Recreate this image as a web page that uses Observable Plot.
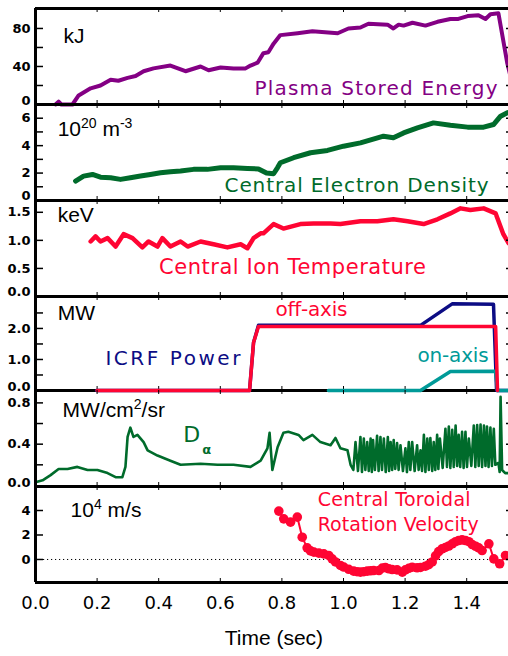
<!DOCTYPE html>
<html><head><meta charset="utf-8">
<script src="https://cdn.jsdelivr.net/npm/d3@7"></script>
<script src="https://cdn.jsdelivr.net/npm/@observablehq/plot@0.6"></script>
<style>
body{margin:0;background:#fff;}
#chart{position:relative;width:508px;height:656px;overflow:hidden;background:#fff;}
#chart svg{position:absolute;left:0;max-width:none !important;}
</style></head><body><div id="chart"></div>
<script>
// ---------- data (time in s, value) ----------
const energy = [[0.065,0],[0.075,3],[0.084,0],[0.12,0],[0.14,9.5],[0.179,17],[0.211,20],[0.244,26],[0.269,25],[0.299,28],[0.325,30],[0.351,35],[0.383,38],[0.438,41],[0.487,35],[0.536,40],[0.562,36],[0.601,39],[0.643,38],[0.682,38],[0.698,41],[0.721,44],[0.74,54],[0.756,55],[0.773,64],[0.795,73],[0.851,75],[0.899,77],[0.981,75],[1.016,80],[1.055,81],[1.081,85],[1.143,84],[1.162,80],[1.179,84],[1.195,83],[1.224,86],[1.266,83],[1.305,87],[1.347,90],[1.373,90],[1.403,93],[1.438,94],[1.461,90],[1.477,95],[1.503,96],[1.532,43],[1.542,30]];
const density = [[0.13,1.42],[0.156,1.78],[0.185,1.9],[0.211,1.7],[0.244,1.66],[0.276,1.54],[0.308,1.66],[0.341,1.78],[0.373,1.9],[0.406,2.02],[0.438,2.1],[0.471,2.15],[0.513,2.27],[0.558,2.27],[0.601,2.39],[0.643,2.39],[0.688,2.34],[0.724,2.3],[0.75,2.0],[0.773,1.95],[0.786,2.4],[0.795,2.75],[0.838,3.12],[0.893,3.48],[0.948,3.65],[1.0,3.96],[1.055,4.2],[1.13,4.69],[1.162,4.57],[1.195,4.93],[1.24,5.3],[1.292,5.66],[1.347,5.49],[1.403,5.35],[1.455,5.35],[1.487,5.54],[1.51,6.15],[1.532,6.4]];
const ionTemp = [[0.179,0.98],[0.195,1.07],[0.211,0.98],[0.234,1.04],[0.26,0.89],[0.286,1.11],[0.315,1.04],[0.347,0.875],[0.367,0.98],[0.396,0.89],[0.412,1.04],[0.438,0.89],[0.471,0.98],[0.494,0.89],[0.536,0.98],[0.578,0.93],[0.623,0.875],[0.666,0.93],[0.688,0.86],[0.708,1.04],[0.731,1.125],[0.74,1.125],[0.773,1.29],[0.805,1.21],[0.86,1.29],[0.903,1.3],[0.958,1.3],[0.99,1.29],[1.055,1.34],[1.11,1.34],[1.162,1.375],[1.208,1.34],[1.26,1.29],[1.305,1.375],[1.347,1.48],[1.38,1.57],[1.412,1.54],[1.455,1.57],[1.494,1.48],[1.519,1.11],[1.536,0.95]];
const icrfTotal = [[0.198,0],[0.695,0],[0.708,1.55],[0.724,2.1],[1.25,2.1],[1.354,2.8],[1.487,2.78],[1.497,0],[1.55,0]];
const icrfOffAxis = [[0.2,0],[0.695,0],[0.708,1.55],[0.724,2.06],[1.494,2.06],[1.5,0]];
const icrfOnAxis = [[0.951,0],[1.25,0],[1.347,0.61],[1.494,0.62],[1.5,0],[1.55,0]];
const dalpha = [[0,0.03],[0.023,0.05],[0.049,0.1],[0.075,0.16],[0.104,0.16],[0.136,0.18],[0.169,0.15],[0.201,0.15],[0.234,0.12],[0.26,0.08],[0.282,0.08],[0.292,0.18],[0.299,0.47],[0.308,0.56],[0.318,0.47],[0.331,0.49],[0.351,0.42],[0.364,0.34],[0.396,0.29],[0.438,0.24],[0.471,0.2],[0.536,0.21],[0.591,0.2],[0.643,0.2],[0.698,0.18],[0.731,0.24],[0.753,0.36],[0.76,0.51],[0.769,0.15],[0.786,0.37],[0.805,0.51],[0.821,0.52],[0.854,0.49],[0.87,0.44],[0.899,0.49],[0.925,0.42],[0.958,0.39],[0.974,0.46],[0.99,0.36],[1.013,0.34],[1.023,0.2],[1.032,0.15],[1.039,0.42],[1.047,0.14],[1.055,0.47],[1.06,0.13],[1.066,0.455],[1.071,0.15],[1.077,0.42],[1.082,0.14],[1.088,0.455],[1.092,0.13],[1.096,0.44],[1.102,0.15],[1.109,0.48],[1.114,0.14],[1.12,0.47],[1.125,0.15],[1.131,0.455],[1.137,0.13],[1.144,0.47],[1.148,0.14],[1.153,0.42],[1.158,0.15],[1.163,0.44],[1.168,0.16],[1.174,0.41],[1.179,0.15],[1.185,0.39],[1.193,0.14],[1.201,0.36],[1.206,0.13],[1.212,0.42],[1.217,0.15],[1.223,0.42],[1.231,0.14],[1.239,0.39],[1.244,0.15],[1.25,0.34],[1.255,0.14],[1.261,0.49],[1.266,0.13],[1.272,0.455],[1.277,0.15],[1.282,0.46],[1.288,0.14],[1.293,0.42],[1.298,0.15],[1.304,0.49],[1.308,0.16],[1.313,0.455],[1.322,0.17],[1.331,0.55],[1.336,0.18],[1.342,0.57],[1.347,0.17],[1.353,0.54],[1.358,0.18],[1.364,0.58],[1.369,0.19],[1.374,0.49],[1.379,0.18],[1.385,0.52],[1.39,0.17],[1.396,0.52],[1.401,0.18],[1.407,0.455],[1.415,0.19],[1.423,0.58],[1.428,0.18],[1.434,0.585],[1.439,0.19],[1.445,0.59],[1.45,0.18],[1.456,0.58],[1.461,0.19],[1.466,0.57],[1.471,0.18],[1.477,0.56],[1.482,0.19],[1.488,0.55],[1.493,0.2],[1.503,0.22],[1.507,0.13],[1.51,0.86],[1.515,0.15],[1.525,0.12],[1.55,0.12]];
const rotation = [[0.79,3.95],[0.806,3.32],[0.828,3.05],[0.85,3.46],[0.866,1.82],[0.882,0.95],[0.893,0.7],[0.904,0.6],[0.92,0.52],[0.936,0.46],[0.952,0.33],[0.963,0.05],[0.974,-0.2],[0.99,-0.49],[1.001,-0.62],[1.017,-0.8],[1.033,-0.95],[1.044,-1.0],[1.055,-1.03],[1.066,-1.0],[1.077,-0.95],[1.088,-0.92],[1.098,-0.9],[1.115,-0.9],[1.126,-0.7],[1.136,-0.65],[1.147,-0.76],[1.158,-0.82],[1.174,-0.85],[1.191,-1.03],[1.201,-0.85],[1.212,-0.72],[1.223,-0.63],[1.239,-0.68],[1.25,-0.65],[1.266,-0.55],[1.277,-0.42],[1.288,-0.2],[1.299,0.3],[1.309,0.65],[1.32,0.87],[1.331,0.98],[1.342,1.1],[1.353,1.28],[1.364,1.45],[1.374,1.55],[1.385,1.6],[1.396,1.55],[1.407,1.45],[1.418,1.22],[1.429,1.08],[1.439,0.95],[1.45,0.73],[1.472,1.28],[1.488,0.05],[1.507,-0.35],[1.526,0.33]];

// ---------- ticks ----------
const xTickVals = [0.2, 0.4, 0.6, 0.8, 1.0, 1.2, 1.4];
const xTickLabels = ["0.0", "0.2", "0.4", "0.6", "0.8", "1.0", "1.2", "1.4"];
const xLabelVals = [0, 0.2, 0.4, 0.6, 0.8, 1.0, 1.2, 1.4];

const XMAX = 479 / 308;
const PURPLE = "#840084", GREEN = "#006b2b", RED = "#ff0533", NAVY = "#0c0c84", TEAL = "#009a98";
const ROUND = "DejaVu Sans", HELV = "Liberation Sans, Arial, sans-serif";

// desired rendered widths (px) of annotation strings
const textWidths = {
  "Plasma Stored Energy": 243, "Central Electron Density": 264, "Central Ion Temperature": 267,
  "off-axis": 72, "ICRF Power": 135, "on-axis": 71, "Central Toroidal": 153, "Rotation Velocity": 161
};

function richify(svg) {
  svg.querySelectorAll("text").forEach(t => {
    const s = t.textContent;
    if (textWidths[s]) { t.setAttribute("textLength", textWidths[s]); t.setAttribute("lengthAdjust", "spacing"); return; }
    if (!/[\^_]\{/.test(s)) return;
    while (t.firstChild) t.removeChild(t.firstChild);
    const re = /([\^_])\{([^}]*)\}|([^\^_]+)/g;
    let m;
    while ((m = re.exec(s))) {
      const ts = document.createElementNS("http://www.w3.org/2000/svg", "tspan");
      if (m[3] !== undefined) { ts.textContent = m[3]; }
      else if (m[1] === "^") { ts.textContent = m[2]; ts.setAttribute("font-size", "14"); ts.setAttribute("baseline-shift", "8"); }
      else { ts.textContent = m[2]; ts.setAttribute("font-size", "13"); ts.setAttribute("font-weight", "bold"); ts.setAttribute("baseline-shift", "-12"); ts.setAttribute("dx", "2"); }
      t.appendChild(ts);
    }
  });
}

const chart = document.getElementById("chart");

function panel(cfg) {
  const {top, h, domain, ticks, labels, fmt, bottomDy, bottomLabel, topBorder, dataFirst = true, marks, extraBottom = 0, extraMarks = []} = cfg;
  const span = domain[1] - domain[0];
  const tk = span * 4 / h;
  const xt = 8 / 308;
  const frame = [
    Plot.ruleX([0], {y1: domain[0], y2: domain[1], stroke: "black", strokeWidth: 3}),
    Plot.ruleY([domain[0]], {x1: 0, x2: XMAX, stroke: "black", strokeWidth: 3}),
    ...(topBorder ? [Plot.ruleY([domain[1]], {x1: 0, x2: XMAX, stroke: "black", strokeWidth: 3})] : []),
    Plot.ruleY(ticks, {x1: 0, x2: xt, stroke: "black", strokeWidth: 1.5}),
    Plot.ruleY(ticks, {x1: XMAX - xt, x2: XMAX, stroke: "black", strokeWidth: 1.5}),
    Plot.ruleX(xTickVals, {y1: domain[0], y2: domain[0] + tk, stroke: "black", strokeWidth: 1}),
    Plot.ruleX(xTickVals, {y1: domain[1] - tk, y2: domain[1], stroke: "black", strokeWidth: 1}),
    Plot.text(labels, {y: d => d, text: d => fmt(d), frameAnchor: "left", textAnchor: "end", dx: -5, fontSize: 13, fontWeight: "bold", fontFamily: ROUND, fill: "black"}),
    ...(bottomLabel ? [Plot.text([bottomLabel], {y: 0, frameAnchor: "left", textAnchor: "end", dx: -5, dy: bottomDy, fontSize: 13, fontWeight: "bold", fontFamily: ROUND, fill: "black"})] : [])
  ];
  const svg = Plot.plot({
    width: 514, height: h + 8 + extraBottom,
    marginTop: 4, marginBottom: 4 + extraBottom, marginLeft: 35, marginRight: 0,
    x: {domain: [0, XMAX], axis: null},
    y: {domain, axis: null},
    style: {background: "transparent", overflow: "visible", maxWidth: "none"},
    marks: dataFirst ? [...marks, ...frame, ...extraMarks] : [...frame, ...marks, ...extraMarks]
  });
  svg.style.top = (top - 4) + "px";
  svg.style.maxWidth = "none";
  svg.style.width = "514px";
  chart.appendChild(svg);
  richify(svg);
  return svg;
}

const X = d => d[0], Y = d => d[1];

// Panel 1: stored energy
panel({top: 8, h: 96, domain: [0, 101], ticks: [20, 40, 60, 80], labels: [40, 80], fmt: d3.format("d"),
  bottomLabel: "0", bottomDy: -4, topBorder: true,
  marks: [
    Plot.line(energy, {x: X, y: Y, stroke: PURPLE, strokeWidth: 4, strokeLinejoin: "round"}),
    Plot.text(["kJ"], {x: 0.091, y: 72, textAnchor: "start", fontSize: 21, fontFamily: HELV, fill: "black"}),
    Plot.text(["Plasma Stored Energy"], {x: 1.5, y: 16.5, textAnchor: "end", fontSize: 20, fontFamily: ROUND, fill: PURPLE})
  ]});

// Panel 2: electron density
panel({top: 104, h: 96, domain: [0, 7], ticks: [1, 2, 3, 4, 5, 6], labels: [2, 4, 6], fmt: d3.format("d"),
  bottomLabel: "0", bottomDy: -5,
  marks: [
    Plot.line(density, {x: X, y: Y, stroke: GREEN, strokeWidth: 5, strokeLinejoin: "round"}),
    Plot.text(["10^{20} m^{-3}"], {x: 0.072, y: 5.2, textAnchor: "start", fontSize: 21, fontFamily: HELV, fill: "black"}),
    Plot.text(["Central Electron Density"], {x: 1.471, y: 1.1, textAnchor: "end", fontSize: 20, fontFamily: ROUND, fill: GREEN})
  ]});

// Panel 3: ion temperature
panel({top: 200, h: 96, domain: [0, 1.71], ticks: [0.5, 1.0, 1.5], labels: [0.5, 1.0, 1.5], fmt: d3.format(".1f"),
  bottomLabel: "0.0", bottomDy: -5,
  marks: [
    Plot.line(ionTemp, {x: X, y: Y, stroke: RED, strokeWidth: 4.5, strokeLinejoin: "round"}),
    Plot.text(["keV"], {x: 0.072, y: 1.44, textAnchor: "start", fontSize: 21, fontFamily: HELV, fill: "black"}),
    Plot.text(["Central Ion Temperature"], {x: 0.401, y: 0.52, textAnchor: "start", fontSize: 21, fontFamily: ROUND, fill: RED})
  ]});

// Panel 4: ICRF power
panel({top: 296, h: 94, domain: [0, 3.03], ticks: [0.5, 1.0, 1.5, 2.0, 2.5], labels: [1.0, 2.0], fmt: d3.format(".1f"),
  bottomLabel: "0.0", bottomDy: -4, dataFirst: false,
  marks: [
    Plot.line(icrfTotal, {x: X, y: Y, stroke: NAVY, strokeWidth: 3.5, strokeLinejoin: "round"}),
    Plot.line(icrfOnAxis, {x: X, y: Y, stroke: TEAL, strokeWidth: 3.5, strokeLinejoin: "round"}),
    Plot.line(icrfOffAxis, {x: X, y: Y, stroke: RED, strokeWidth: 3.5, strokeLinejoin: "round"}),
    Plot.text(["MW"], {x: 0.072, y: 2.5, textAnchor: "start", fontSize: 21, fontFamily: HELV, fill: "black"}),
    Plot.text(["off-axis"], {x: 0.779, y: 2.6, textAnchor: "start", fontSize: 20, fontFamily: ROUND, fill: RED}),
    Plot.text(["ICRF Power"], {x: 0.227, y: 1.02, textAnchor: "start", fontSize: 20, fontFamily: ROUND, fill: NAVY}),
    Plot.text(["on-axis"], {x: 1.471, y: 1.13, textAnchor: "end", fontSize: 20, fontFamily: ROUND, fill: TEAL})
  ]});

// Panel 5: D-alpha
panel({top: 390, h: 96, domain: [-0.01, 0.92], ticks: [0.2, 0.4, 0.6, 0.8], labels: [0.4, 0.8], fmt: d3.format(".1f"),
  bottomLabel: "0.0", bottomDy: -3,
  marks: [
    Plot.line(dalpha, {x: X, y: Y, stroke: GREEN, strokeWidth: 2.6, strokeLinejoin: "round"}),
    Plot.text(["MW/cm^{2}/sr"], {x: 0.088, y: 0.73, textAnchor: "start", fontSize: 21, fontFamily: HELV, fill: "black"}),
    Plot.text(["D_{α}"], {x: 0.48, y: 0.49, textAnchor: "start", fontSize: 22, fontFamily: ROUND, fill: GREEN})
  ]});

// Panel 6: rotation velocity + x axis
panel({top: 486, h: 96, domain: [-1.88, 5.96], ticks: [0, 2, 4], labels: [0, 2, 4], fmt: d3.format("d"),
  extraBottom: 74,
  marks: [
    Plot.ruleY([0], {x1: 0, x2: XMAX, stroke: "black", strokeWidth: 1, strokeDasharray: "1.2,2.8"}),
    Plot.line(rotation, {x: X, y: Y, stroke: RED, strokeWidth: 2}),
    Plot.dot(rotation, {x: X, y: Y, r: 4.8, fill: RED, stroke: "none"}),
    Plot.text(["10^{4} m/s"], {x: 0.114, y: 4.0, textAnchor: "start", fontSize: 21, fontFamily: HELV, fill: "black"}),
    Plot.text(["Central Toroidal"], {x: 0.916, y: 4.86, textAnchor: "start", fontSize: 19, fontFamily: ROUND, fill: RED}),
    Plot.text(["Rotation Velocity"], {x: 0.916, y: 2.86, textAnchor: "start", fontSize: 19, fontFamily: ROUND, fill: RED})
  ],
  extraMarks: [
    Plot.text(xLabelVals, {x: d => d, text: (d, i) => xTickLabels[i], frameAnchor: "bottom", dy: 26.5, fontSize: 18, fontFamily: ROUND, fill: "black"}),
    Plot.text(["Time (sec)"], {x: 0.774, frameAnchor: "bottom", dy: 62, fontSize: 21, fontFamily: HELV, fill: "black"})
  ]});
</script></body></html>
